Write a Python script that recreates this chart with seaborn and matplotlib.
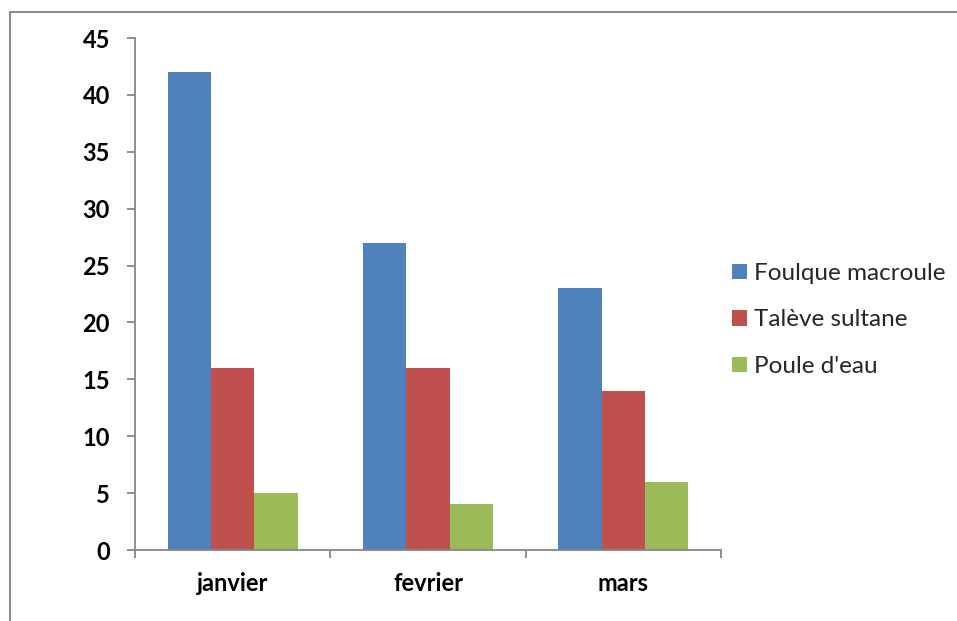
import matplotlib
matplotlib.use("Agg")
import matplotlib.pyplot as plt
import seaborn as sns
import pandas as pd
from matplotlib.patches import Rectangle, Patch

# Monthly counts of waterbirds
months = ["janvier", "fevrier", "mars"]
foulque = [42, 27, 23]
taleve = [16, 16, 14]
poule = [5, 4, 6]
species = ["Foulque macroule", "Talève sultane", "Poule d'eau"]
colors = ["#4F81BD", "#C0504D", "#9BBB59"]
yticks = [0, 5, 10, 15, 20, 25, 30, 35, 40, 45]

df = pd.DataFrame({
    "mois": months * 3,
    "espece": [species[0]] * 3 + [species[1]] * 3 + [species[2]] * 3,
    "nombre": foulque + taleve + poule,
})

sns.set_theme(style="white")
plt.rcParams["font.family"] = ["Lato", "DejaVu Sans"]

W, H = 957, 621
fig = plt.figure(figsize=(W / 100, H / 100), dpi=100)
ax = fig.add_axes([135 / W, (H - 550) / H, (721 - 135) / W, (550 - 38) / H])

sns.barplot(data=df, x="mois", y="nombre", hue="espece", order=months,
            hue_order=species, palette=colors, width=0.667, gap=0,
            linewidth=0, saturation=1, ax=ax, legend=False)

ax.set_xlim(-0.5, 2.5)
ax.set_ylim(0, 45)
ax.set_yticks(yticks)
ax.set_yticklabels([str(v) for v in yticks], fontweight="bold", fontsize=17)
ax.set_xticks(range(len(months)))
ax.set_xticklabels(months, fontweight="bold", fontsize=17)
ax.set_xlabel("")
ax.set_ylabel("")

axis_col = "#868686"
for s in ["top", "right"]:
    ax.spines[s].set_visible(False)
for s in ["left", "bottom"]:
    ax.spines[s].set_color(axis_col)
    ax.spines[s].set_linewidth(1.3)

ax.tick_params(axis="y", which="major", direction="out", length=6, width=1.3,
               color=axis_col, left=True, pad=12, labelcolor="black")
ax.set_xticks([-0.5, 0.5, 1.5, 2.5], minor=True)
ax.tick_params(axis="x", which="minor", direction="out", length=6, width=1.3,
               color=axis_col, bottom=True)
ax.tick_params(axis="x", which="major", length=0, pad=16, labelcolor="black")

# Legend on the right
handles = [Patch(facecolor=c, edgecolor="none") for c in colors]
fig.legend(handles, species, loc="center left",
           bbox_to_anchor=(732 / W, 1 - 320 / H), frameon=False,
           borderpad=0, borderaxespad=0,
           fontsize=17.5, handlelength=0.62, handleheight=0.62,
           handletextpad=0.3, labelspacing=1.05)

# Outer chart frame
fig.patches.append(Rectangle((10 / W, -0.1), 1.2, 1 - 11.5 / H + 0.1,
                             transform=fig.transFigure, fill=False,
                             edgecolor="#8c8c8c", linewidth=1.5))

fig.savefig("out.png", dpi=100)
